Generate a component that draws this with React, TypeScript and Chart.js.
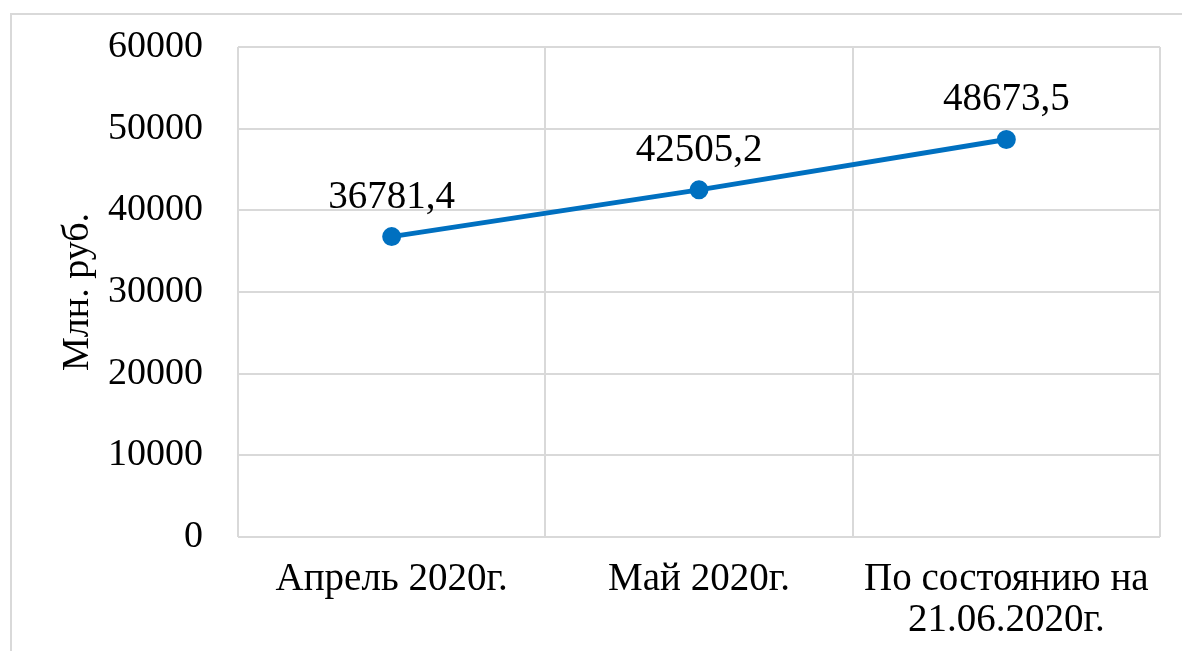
import React, { useEffect, useRef } from "react";
import { Chart, registerables } from "chart.js";

Chart.register(...registerables);

const categories: (string | string[])[] = [
  "Апрель 2020г.",
  "Май 2020г.",
  ["По состоянию на", "21.06.2020г."],
];
const values: number[] = [36781.4, 42505.2, 48673.5];
const yTicks: number[] = [0, 10000, 20000, 30000, 40000, 50000, 60000];
const yTitle = "Млн. руб.";

const FONT = "'Liberation Serif', 'Times New Roman', serif";

const fmt = (v: number) => v.toFixed(1).replace(".", ",");

const framePlugin = {
  id: "frame",
  beforeDraw(chart: any) {
    const ctx = chart.ctx;
    ctx.save();
    ctx.fillStyle = "#ffffff";
    ctx.fillRect(0, 0, chart.width, chart.height);
    ctx.strokeStyle = "#d9d9d9";
    ctx.lineWidth = 2;
    ctx.beginPath();
    ctx.moveTo(11, chart.height + 5);
    ctx.lineTo(11, 14);
    ctx.lineTo(chart.width + 5, 14);
    ctx.stroke();
    ctx.restore();
  },
};

const labelPlugin = {
  id: "valueLabels",
  afterDatasetsDraw(chart: any) {
    const ctx = chart.ctx;
    const meta = chart.getDatasetMeta(0);
    ctx.save();
    ctx.font = `39px ${FONT}`;
    ctx.fillStyle = "#000000";
    ctx.textAlign = "center";
    ctx.textBaseline = "alphabetic";
    meta.data.forEach((pt: any, i: number) => {
      ctx.fillText(fmt(values[i]), pt.x, pt.y - 29);
    });
    ctx.restore();
  },
};

export default function App() {
  const ref = useRef<HTMLCanvasElement>(null);
  useEffect(() => {
    document.body.style.margin = "0";
    const chart = new Chart(ref.current!, {
      type: "line",
      data: {
        labels: categories,
        datasets: [
          {
            data: values,
            borderColor: "#0070c0",
            backgroundColor: "#0070c0",
            borderWidth: 5,
            pointRadius: 7,
            pointHoverRadius: 7,
            pointBackgroundColor: "#0070c0",
            pointBorderColor: "#0070c0",
            tension: 0,
          },
        ],
      },
      options: {
        animation: false,
        responsive: true,
        maintainAspectRatio: false,
        layout: { padding: { left: 0, top: 47, right: 22, bottom: 0 } },
        plugins: {
          legend: { display: false },
          tooltip: { enabled: false },
        },
        scales: {
          x: {
            offset: true,
            grid: { offset: true, color: "#d9d9d9", lineWidth: 2, drawTicks: false },
            border: { display: false },
            ticks: {
              padding: 23,
              color: "#000000",
              maxRotation: 0,
              autoSkip: false,
              font: { family: FONT, size: 39, lineHeight: 1.03 },
            },
            afterFit: (s: any) => {
              s.height = 114;
            },
          },
          y: {
            min: 0,
            max: 60000,
            afterBuildTicks: (s: any) => {
              s.ticks = yTicks.map((v) => ({ value: v }));
            },
            grid: { color: "#d9d9d9", lineWidth: 2, drawTicks: false },
            border: { display: false },
            ticks: {
              padding: 35,
              color: "#000000",
              font: { family: FONT, size: 38 },
              callback: (v: any) => String(v),
            },
            title: {
              display: true,
              text: yTitle,
              color: "#000000",
              font: { family: FONT, size: 38, lineHeight: 1.2 },
              padding: { top: 55, bottom: 0 },
            },
            afterFit: (s: any) => {
              s.width = 238;
              s.paddingTop = 0;
              s.paddingBottom = 0;
            },
          },
        },
      },
      plugins: [framePlugin, labelPlugin],
    });
    return () => chart.destroy();
  }, []);
  return (
    <div style={{ width: 1182, height: 651, position: "relative" }}>
      <canvas ref={ref} />
    </div>
  );
}
